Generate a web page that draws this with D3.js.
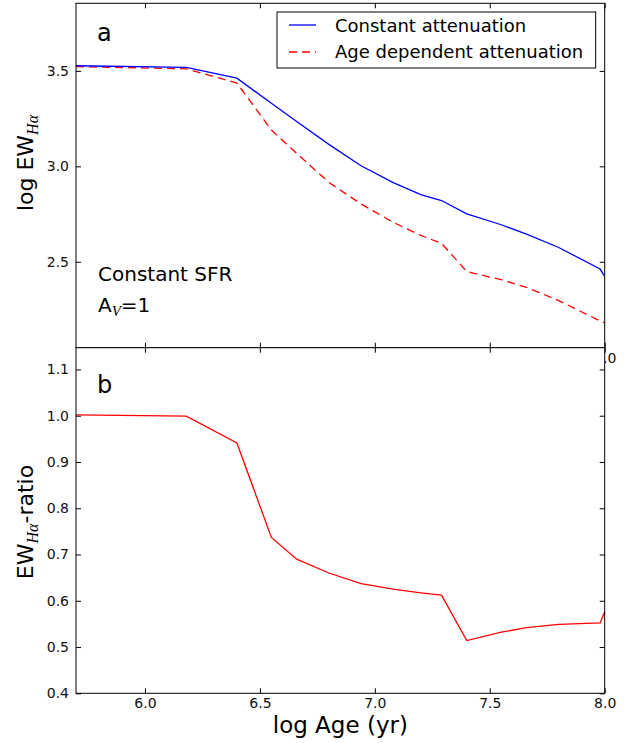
<!DOCTYPE html>
<meta charset="utf-8">
<head>
  <script src="https://d3js.org/d3.v7.min.js"></script>
  <style>
    body { margin: 0; background: #fff; }
    text { font-family: "DejaVu Sans", sans-serif; fill: #000; }
    .tick line { stroke: #000; }
    .tick text { font-size: 14px; fill: #111; }
    .sub { font-family: "Liberation Serif", serif; font-style: italic; }
  </style>
</head>
<body>
<div id="viz"></div>
<script>
// log age grid (yr) shared by all curves
var logAge = [5.70, 6.18, 6.40, 6.55, 6.66, 6.80, 6.94, 7.08, 7.20, 7.29, 7.40, 7.55, 7.66, 7.80, 7.98, 8.00];

// panel a: log EW(Halpha)
var ewConstant = [3.527, 3.518, 3.462, 3.330, 3.235, 3.115, 3.003, 2.915, 2.852, 2.821, 2.751, 2.694, 2.645, 2.575, 2.462, 2.423];
var ewAgeDep   = [3.522, 3.511, 3.436, 3.190, 3.068, 2.916, 2.803, 2.707, 2.638, 2.597, 2.449, 2.406, 2.366, 2.297, 2.190, 2.180];

// panel b: EW ratio
var ewRatio = [1.002, 0.999, 0.941, 0.737, 0.690, 0.660, 0.637, 0.625, 0.617, 0.612, 0.514, 0.532, 0.542, 0.549, 0.552, 0.576];

var xTicks = [6.0, 6.5, 7.0, 7.5, 8.0];
var yTicksA = [2.5, 3.0, 3.5];
var yTicksB = [0.4, 0.5, 0.6, 0.7, 0.8, 0.9, 1.0, 1.1];

var W = 637, H = 743;
var left = 76, right = 604.7;
var topA = 3.3, botA = 347.7, botB = 693.3;

var svg = d3.select("#viz").append("svg")
  .attr("width", W).attr("height", H);

var x = d3.scaleLinear().domain([5.7, 8.0]).range([left, right]);
var yA = d3.scaleLinear().domain([2.05, 3.854]).range([botA, topA]);
var yB = d3.scaleLinear().domain([0.4, 1.147]).range([botB, botA]);

function fmt(d) { return d3.format(".1f")(d); }

function drawPanel(y, yTicks, yTop, yBot) {
  var g = svg.append("g");
  g.append("rect")
    .attr("x", left).attr("y", yTop)
    .attr("width", right - left).attr("height", yBot - yTop)
    .attr("fill", "#fff");

  // axes, inward ticks like matplotlib
  g.append("g").attr("transform", "translate(0," + yBot + ")")
    .call(d3.axisBottom(x).tickValues(xTicks).tickSize(-5).tickPadding(5).tickFormat(fmt));
  g.append("g").attr("transform", "translate(0," + yTop + ")")
    .call(d3.axisTop(x).tickValues(xTicks).tickSize(-5).tickFormat(""));
  g.append("g").attr("transform", "translate(" + left + ",0)")
    .call(d3.axisLeft(y).tickValues(yTicks).tickSize(-5).tickPadding(7).tickFormat(fmt));
  g.append("g").attr("transform", "translate(" + right + ",0)")
    .call(d3.axisRight(y).tickValues(yTicks).tickSize(-5).tickFormat(""));
  g.selectAll(".domain").remove();
  return g;
}

// ---- panel a ----
var gA = drawPanel(yA, yTicksA, topA, botA);

var lineA = function(vals) {
  return d3.line().x(function(d, i) { return x(logAge[i]); })
    .y(function(d) { return yA(d); })(vals);
};

svg.append("clipPath").attr("id", "clipA").append("rect")
  .attr("x", left).attr("y", topA).attr("width", right - left).attr("height", botA - topA);

gA.append("path").attr("d", lineA(ewAgeDep))
  .attr("fill", "none").attr("stroke", "#ff0000").attr("stroke-width", 1.3)
  .attr("stroke-dasharray", "8,5").attr("clip-path", "url(#clipA)");
gA.append("path").attr("d", lineA(ewConstant))
  .attr("fill", "none").attr("stroke", "#0000ff").attr("stroke-width", 1.3)
  .attr("clip-path", "url(#clipA)");

gA.append("rect").attr("x", left).attr("y", topA)
  .attr("width", right - left).attr("height", botA - topA)
  .attr("fill", "none").attr("stroke", "#000").attr("stroke-width", 1);

gA.append("text").attr("x", 97).attr("y", 41).attr("font-size", 24).text("a");

gA.append("text").attr("x", 98).attr("y", 281).attr("font-size", 20).text("Constant SFR");
var tAv = gA.append("text").attr("x", 98).attr("y", 312).attr("font-size", 20);
tAv.append("tspan").text("A");
tAv.append("tspan").attr("class", "sub").attr("font-size", 15).attr("dy", 4).text("V");
tAv.append("tspan").attr("dy", -4).text("=1");

// legend
var leg = gA.append("g");
leg.append("rect").attr("x", 277).attr("y", 12).attr("width", 318.7).attr("height", 56)
  .attr("fill", "#fff").attr("stroke", "#000").attr("stroke-width", 1);
leg.append("line").attr("x1", 289).attr("x2", 316).attr("y1", 25).attr("y2", 25)
  .attr("stroke", "#0000ff").attr("stroke-width", 1.3);
leg.append("line").attr("x1", 289).attr("x2", 316).attr("y1", 52).attr("y2", 52)
  .attr("stroke", "#ff0000").attr("stroke-width", 1.3).attr("stroke-dasharray", "8,5");
leg.append("text").attr("x", 335).attr("y", 31.5).attr("font-size", 18).text("Constant attenuation");
leg.append("text").attr("x", 335).attr("y", 58).attr("font-size", 18).text("Age dependent attenuation");

// ---- panel b (drawn over panel a's x tick labels) ----
var gB = drawPanel(yB, yTicksB, botA, botB);

var lineB = d3.line().x(function(d, i) { return x(logAge[i]); })
  .y(function(d) { return yB(d); });
gB.append("path").attr("d", lineB(ewRatio))
  .attr("fill", "none").attr("stroke", "#ff0000").attr("stroke-width", 1.3);

gB.append("rect").attr("x", left).attr("y", botA)
  .attr("width", right - left).attr("height", botB - botA)
  .attr("fill", "none").attr("stroke", "#000").attr("stroke-width", 1);

gB.append("text").attr("x", 97).attr("y", 393).attr("font-size", 24).text("b");

// axis labels
svg.append("text").attr("x", (left + right) / 2).attr("y", 733)
  .attr("text-anchor", "middle").attr("font-size", 23).text("log Age (yr)");

var ylA = svg.append("text").attr("text-anchor", "middle").attr("font-size", 22)
  .attr("transform", "translate(33,163) rotate(-90)");
ylA.append("tspan").text("log EW");
ylA.append("tspan").attr("class", "sub").attr("font-size", 16).attr("dy", 5).text("Hα");

var ylB = svg.append("text").attr("text-anchor", "middle").attr("font-size", 22)
  .attr("transform", "translate(33,522) rotate(-90)");
ylB.append("tspan").text("EW");
ylB.append("tspan").attr("class", "sub").attr("font-size", 16).attr("dy", 5).text("Hα");
ylB.append("tspan").attr("dy", -5).text("-ratio");
</script>
</body>
